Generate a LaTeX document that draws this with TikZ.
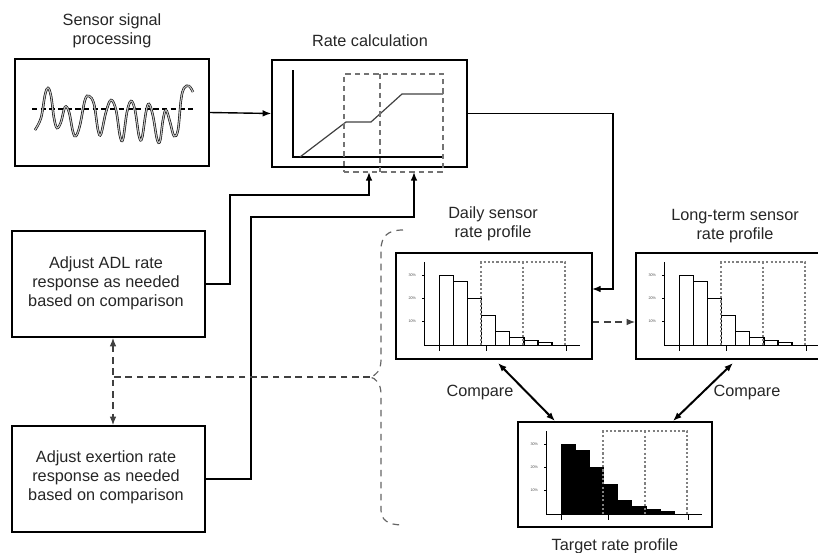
\documentclass[tikz,border=0pt]{standalone}
\usepackage{fontspec}
\setmainfont{Liberation Sans}
\usetikzlibrary{arrows.meta,calc}

% one histogram panel, placed from the north-west corner of its frame node
\newcommand\rateprofile[2]{%
  \begin{scope}[shift={(#1.north west)}]
    \draw[axisline] (29,10) -- (29,93) -- (185,93);
    \foreach \x in {44,91,171} \draw[axisline] (\x,93) -- (\x,99);
    \foreach \h/\t in {70/30,47/20,24/10} {
      \draw[axisline] (27,93-\h) -- (29,93-\h);
      \node[ticklabel] at (17,93-\h) {\t\%};
    }
    \foreach \h [count=\i from 0] in {70,64,47,30,14,8,5,3}
      \draw[histbar, fill=#2] ({44+14.1*\i},93) rectangle ({44+14.1*(\i+1)},93-\h);
    \draw[window] (86,93) |- (170,10) -- (170,93);
    \draw[window] (128,10) -- (128,93);
  \end{scope}}

\begin{document}
\begin{tikzpicture}[x=0.75pt,y=-0.75pt,
  >={Latex[length=6.5pt,width=5pt]},
  panel/.style={draw, line width=1.1pt, inner sep=0pt},
  caption/.style={font=\fontsize{12.2}{14.3}\selectfont, align=center, text=black!85},
  conn/.style={line width=1.05pt},
  dashconn/.style={line width=1pt, dash pattern=on 5pt off 3.5pt, black!75},
  cmp/.style={line width=1.5pt, <->},
  axisline/.style={line width=1pt},
  histbar/.style={line width=1pt},
  ticklabel/.style={font=\fontsize{2.8}{3}\selectfont, text=black!70},
  window/.style={line width=1.2pt, black!50, dash pattern=on 1.6pt off 1.6pt},
  ratewindow/.style={line width=1.1pt, black!55, dash pattern=on 4pt off 3pt},
  bracestyle/.style={line width=0.9pt, black!60, dash pattern=on 5pt off 4pt}]
\useasboundingbox (0,0) rectangle (818,553);

% ---------- frames ----------
\node[panel, minimum width=145.5pt, minimum height=80.25pt] (sensor) at (112,112.5) {};
\node[panel, minimum width=146.25pt, minimum height=80.25pt] (rate) at (369.5,113.5) {};
\node[panel, minimum width=144.75pt, minimum height=79.5pt] (adl) at (108.5,284) {};
\node[panel, minimum width=144.75pt, minimum height=79.5pt] (exe) at (108.5,479) {};
\node[panel, minimum width=147pt, minimum height=79.5pt] (daily) at (494,306) {};
\node[panel, minimum width=147pt, minimum height=79.5pt] (longterm) at (734,306) {};
\node[panel, minimum width=145.5pt, minimum height=78.75pt] (target) at (615,474.5) {};

% ---------- captions ----------
\node[caption] (tsensor) at (112,31) {Sensor signal\\processing};
\node[caption] (trate) at (370,41) {Rate calculation};
\node[caption] (tdaily) at (493,224) {Daily sensor\\rate profile};
\node[caption] (tlong) at (735,226) {Long-term sensor\\rate profile};
\node[caption] (ttarget) at (615,546) {Target rate profile};
\node[caption] (cmpl) at (480,393) {Compare};
\node[caption] (cmpr) at (747,393) {Compare};
\node[caption] (tadl) at (106,283) {Adjust ADL rate\\response as needed\\based on comparison};
\node[caption] (texe) at (106,477) {Adjust exertion rate\\response as needed\\based on comparison};

% ---------- raw sensor signal ----------
\draw[dash pattern=on 4pt off 2.5pt, line width=0.8pt] (32,109) -- (193,109);
\draw[line width=0.45pt, double=black!25, double distance=0.9pt]
  plot[smooth, tension=0.6] coordinates {
   (35,130) (41,118) (45,95) (48,88) (51,96) (54,118) (57,128) (61,122) (65,107)
   (69,112) (73,132) (76,136) (80,125) (85,100) (89,96) (94,104) (98,130)
   (101,134) (106,112) (111,100) (116,110) (120,136) (123,139) (127,112) (131,101)
   (135,110) (139,136) (142,138) (146,112) (149,104) (153,116) (157,139) (160,141)
   (163,120) (166,110) (170,122) (174,136) (178,130) (181,100) (184,88) (189,86) (193,92)};

% ---------- rate curve ----------
\draw[axisline] (293,70) -- (293,157) -- (443,157);
\draw[line width=0.9pt, black!75] (300,157) -- (346,122) -- (371,122) -- (402,94) -- (443,94);
\node[ratewindow, draw, inner sep=0pt, minimum width=74.25pt, minimum height=73.5pt] (win) at (393.5,123) {};
\draw[ratewindow] (380,74) -- (380,172);
\coordinate (adlin) at (369,172);
\coordinate (exein) at (414,172);

% ---------- histograms ----------
\rateprofile{daily}{white}
\rateprofile{longterm}{white}
\rateprofile{target}{black}

% ---------- solid connectors ----------
\draw[conn,->] (sensor.east) -- (rate.west);
\coordinate (k1) at (230,195);
\draw[conn,->] (adl.east) -| (k1) -| (adlin);
\coordinate (k2) at (251,217);
\draw[conn,->] (exe.east) -| (k2) -| (exein);
\coordinate (k3) at (613,113.5);
\coordinate (dailyin) at (592,289);
\draw[conn,->] (rate.east) -- (k3) |- (dailyin);

% ---------- dashed links ----------
\draw[dashconn,->] ([yshift=-12pt]daily.east) -- ([yshift=-12pt]longterm.west);
\draw[bracestyle] (403,230) .. controls (388,230) and (381,236) .. (381,250) -- (381,360)
  .. controls (381,370) and (376,376) .. (370,377)
  .. controls (376,378) and (381,384) .. (381,394) -- (381,510)
  .. controls (381,520) and (388,525) .. (403,525);
\coordinate (bracetip) at (370,377);
\coordinate (vx) at (113,377);
\draw[dashconn] (bracetip) -- (vx);
\draw[dashconn,<->] (vx |- adl.south) -- (vx |- exe.north);

% ---------- comparisons ----------
\coordinate (c1) at (498,363);
\coordinate (c2) at (555,421);
\coordinate (c3) at (733,363);
\coordinate (c4) at (673,421);
\draw[cmp] (c1) -- (c2);
\draw[cmp] (c3) -- (c4);
\end{tikzpicture}
\end{document}
